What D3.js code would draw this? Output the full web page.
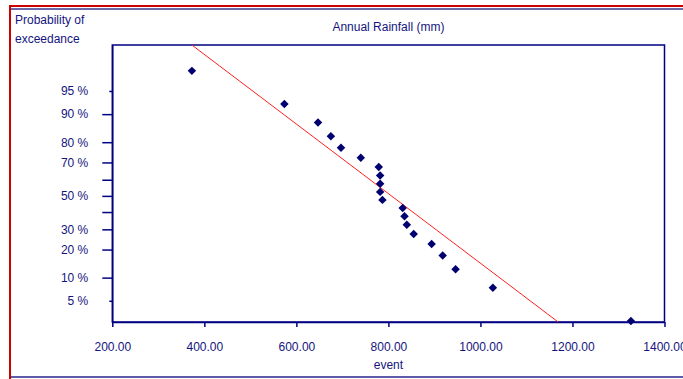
<!DOCTYPE html>
<html>
<head>
<meta charset="utf-8">
<script src="https://cdn.jsdelivr.net/npm/d3@7"></script>
<style>
  body { margin: 0; background: #fff; }
  text { font-family: "Liberation Sans", Arial, sans-serif; font-size: 12px; fill: #14147e; }
</style>
</head>
<body>
<div id="chart"></div>
<script>
// annual rainfall values (mm), sorted, with their plotted exceedance probability (%)
var rainfall = [373, 574, 647, 675, 697, 740, 779, 782, 782, 782,
                787, 831, 835, 840, 855, 894, 918, 946, 1027, 1327];
var exceedance = [97.5, 92.5, 87.5, 82.5, 77.5, 72.5, 67.5, 62.5, 57.5, 52.5,
                  47.5, 42.5, 37.5, 32.5, 27.5, 22.5, 17.5, 12.5, 7.5, 2.5];

// fitted normal line
var fitMean = 806.5;
var fitSd = 183.3;

var xTicks = [200, 400, 600, 800, 1000, 1200, 1400];
var yTicks = [5, 10, 20, 30, 40, 50, 60, 70, 80, 90, 95];
var yLabelled = [5, 10, 20, 30, 50, 70, 80, 90, 95];
var yShort = [5, 95];

var W = 683, H = 379;
var margin = {top: 45, right: 18.5, bottom: 57, left: 112.3};
var width = W - margin.left - margin.right,
    height = H - margin.top - margin.bottom;

// inverse standard normal cdf (Acklam)
function probit(p) {
  var a = [-39.69683028665376, 220.9460984245205, -275.9285104469687, 138.3577518672690, -30.66479806614716, 2.506628277459239];
  var b = [-54.47609879822406, 161.5858368580409, -155.6989798598866, 66.80131188771972, -13.28068155288572];
  var c = [-0.007784894002430293, -0.3223964580411365, -2.400758277161838, -2.549732539343734, 4.374664141464968, 2.938163982698783];
  var d = [0.007784695709041462, 0.3224671290700398, 2.445134137142996, 3.754408661907416];
  var pl = 0.02425, q, r;
  if (p < pl) {
    q = Math.sqrt(-2 * Math.log(p));
    return (((((c[0]*q+c[1])*q+c[2])*q+c[3])*q+c[4])*q+c[5]) / ((((d[0]*q+d[1])*q+d[2])*q+d[3])*q+1);
  }
  if (p > 1 - pl) {
    q = Math.sqrt(-2 * Math.log(1 - p));
    return -(((((c[0]*q+c[1])*q+c[2])*q+c[3])*q+c[4])*q+c[5]) / ((((d[0]*q+d[1])*q+d[2])*q+d[3])*q+1);
  }
  q = p - 0.5; r = q * q;
  return (((((a[0]*r+a[1])*r+a[2])*r+a[3])*r+a[4])*r+a[5])*q / (((((b[0]*r+b[1])*r+b[2])*r+b[3])*r+b[4])*r+1);
}

var svg = d3.select("#chart").append("svg")
  .attr("width", W)
  .attr("height", H);

// outer frame
svg.append("line").attr("x1", 9).attr("x2", W).attr("y1", 6).attr("y2", 6)
  .attr("stroke", "#cc0000").attr("stroke-width", 2);
svg.append("line").attr("x1", 11).attr("x2", W).attr("y1", 9).attr("y2", 9)
  .attr("stroke", "#6a6aa8").attr("stroke-width", 2);
svg.append("line").attr("x1", 10).attr("x2", 10).attr("y1", 5).attr("y2", H)
  .attr("stroke", "#cc0000").attr("stroke-width", 2);
svg.append("line").attr("x1", 11).attr("x2", W).attr("y1", 377).attr("y2", 377)
  .attr("stroke", "#5c5ca8").attr("stroke-width", 2);

var g = svg.append("g")
  .attr("transform", "translate(" + margin.left + "," + margin.top + ")");

// scales
var x = d3.scaleLinear().domain([200, 1400]).range([0, width]);
var zDomain = [probit(0.024), probit(0.991)];
var y = d3.scaleLinear().domain(zDomain).range([height, 0]);
function yp(pct) { return y(probit(pct / 100)); }

g.append("clipPath").attr("id", "clip")
  .append("rect").attr("width", width).attr("height", height);

// plot box
g.append("rect")
  .attr("width", width)
  .attr("height", height)
  .attr("fill", "none")
  .attr("stroke", "#000080")
  .attr("stroke-width", 1.5);

// x axis
var xAxis = g.append("g")
  .attr("transform", "translate(0," + height + ")")
  .call(d3.axisBottom(x).tickValues(xTicks).tickFormat(d3.format(".2f"))
    .tickSize(5).tickSizeOuter(0).tickPadding(15));
xAxis.select(".domain").attr("stroke", "#000080").attr("stroke-width", 1.5);
xAxis.selectAll(".tick line").attr("stroke", "#000080").attr("stroke-width", 1.5);
xAxis.selectAll("text").attr("font-size", 12).attr("fill", "#14147e")
  .attr("font-family", "Liberation Sans, Arial, sans-serif");

// y axis (normal probability scale)
var yAxis = g.append("g")
  .call(d3.axisLeft(y).tickValues(yTicks.map(function (p) { return probit(p / 100); }))
    .tickFormat(function (z, i) {
      var p = yTicks[i];
      return yLabelled.indexOf(p) >= 0 ? p + " %" : "";
    })
    .tickSize(10).tickSizeOuter(0).tickPadding(14));
yAxis.select(".domain").attr("stroke", "#000080").attr("stroke-width", 1.5);
yAxis.selectAll(".tick line")
  .attr("stroke", "#000080").attr("stroke-width", 1.5)
  .attr("x2", function (z, i) { return yShort.indexOf(yTicks[i]) >= 0 ? -3 : -10; });
yAxis.selectAll("text").attr("font-size", 12).attr("fill", "#14147e")
  .attr("font-family", "Liberation Sans, Arial, sans-serif");

// fitted line
g.append("line")
  .attr("clip-path", "url(#clip)")
  .attr("x1", x(fitMean - fitSd * zDomain[1])).attr("y1", y(zDomain[1]))
  .attr("x2", x(fitMean - fitSd * zDomain[0])).attr("y2", y(zDomain[0]))
  .attr("stroke", "#ff2020").attr("stroke-width", 1);

// points
g.selectAll(".pt")
  .data(rainfall)
  .enter().append("path")
  .attr("class", "pt")
  .attr("d", d3.symbol(d3.symbolSquare, 36))
  .attr("transform", function (d, i) {
    return "translate(" + x(d) + "," + yp(exceedance[i]) + ") rotate(45)";
  })
  .attr("fill", "#000070");

// titles
svg.append("text").attr("x", 15).attr("y", 24).text("Probability of");
svg.append("text").attr("x", 15).attr("y", 43).text("exceedance");
svg.append("text").attr("x", margin.left + width / 2).attr("y", 31)
  .attr("text-anchor", "middle").text("Annual Rainfall (mm)");
svg.append("text").attr("x", margin.left + x(800)).attr("y", 369)
  .attr("text-anchor", "middle").text("event");
</script>
</body>
</html>
